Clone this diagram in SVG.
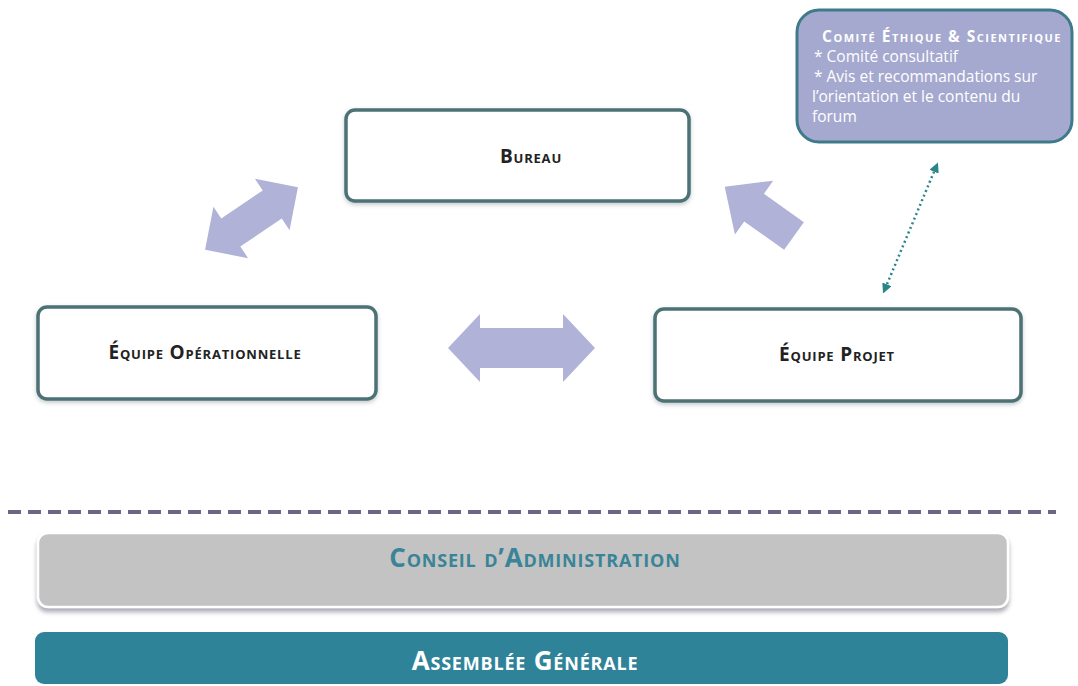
<svg xmlns="http://www.w3.org/2000/svg" width="1078" height="686" viewBox="0 0 1078 686">
<defs>
<style>
.node rect{fill:#fff;stroke:#4d7275;stroke-width:3.5}
.lbl{font-family:"Open Sans","Liberation Sans",sans-serif;font-weight:bold;font-variant:small-caps;font-size:19px;letter-spacing:0.8px;fill:#222;text-anchor:middle}
.big{fill:#b0b2d8}
.ce{font-family:"Open Sans","Liberation Sans",sans-serif;font-size:15.5px;fill:#fff}
.band{font-family:"Open Sans","Liberation Sans",sans-serif;font-weight:bold;font-variant:small-caps;font-size:26px;letter-spacing:0.8px;text-anchor:middle}
</style>
<filter id="sh" x="-10%" y="-10%" width="120%" height="130%">
<feDropShadow dx="0" dy="2" stdDeviation="2" flood-color="#7a8a90" flood-opacity="0.45"/>
</filter>
<filter id="sh2" x="-5%" y="-10%" width="110%" height="140%">
<feDropShadow dx="0" dy="4" stdDeviation="2" flood-color="#8a8a9a" flood-opacity="0.7"/>
</filter>
<marker id="ah" viewBox="0 0 10 10" refX="5" refY="5" markerWidth="4" markerHeight="4" orient="auto-start-reverse">
<path d="M0,0 L10,5 L0,10 z" fill="#2a8588"/>
</marker>
</defs>
<rect width="1078" height="686" fill="#fff"/>

<g id="connectors">
<polygon class="big" transform="translate(251.5,218.5) rotate(-34)" points="-56,0 -25,-31 -25,-17 25,-17 25,-31 56,0 25,31 25,17 -25,17 -25,31"/>
<polygon class="big" transform="translate(794,236) rotate(-144.6)" points="0,-17 49,-17 49,-33 85,0 49,33 49,17 0,17"/>
<polygon class="big" transform="translate(521.5,348)" points="-73.5,0 -41.5,-34 -41.5,-20 41.5,-20 41.5,-34 73.5,0 41.5,34 41.5,20 -41.5,20 -41.5,34"/>
<line x1="936" y1="167" x2="885" y2="289" stroke="#2a8588" stroke-width="2.5" stroke-dasharray="2 3" marker-start="url(#ah)" marker-end="url(#ah)"/>
</g>

<g id="bureau" class="node">
<rect x="346" y="110" width="343" height="91" rx="9" filter="url(#sh)"/>
<text class="lbl" x="531" y="163">Bureau</text>
</g>

<g id="equipe-operationnelle" class="node">
<rect x="38" y="307" width="338" height="92" rx="9" filter="url(#sh)"/>
<text class="lbl" x="205" y="359">Équipe Opérationnelle</text>
</g>

<g id="equipe-projet" class="node">
<rect x="655" y="309" width="366" height="92" rx="9" filter="url(#sh)"/>
<text class="lbl" x="837" y="361">Équipe Projet</text>
</g>

<g id="comite">
<rect x="797" y="10" width="275" height="132" rx="22" fill="#a5a9cf" stroke="#3e7a8a" stroke-width="3"/>
<text class="ce" x="822" y="42" font-size="17px" font-weight="bold" font-variant="small-caps" letter-spacing="1.5px">Comité Éthique &amp; Scientifique</text>
<text class="ce" x="814" y="62">* Comité consultatif</text>
<text class="ce" x="814" y="82">* Avis et recommandations sur</text>
<text class="ce" x="812" y="102">l’orientation et le contenu du</text>
<text class="ce" x="812" y="122">forum</text>
</g>

<g id="separator">
<line x1="8" y1="512" x2="1056" y2="512" stroke="#6b6687" stroke-width="4" stroke-dasharray="13 7"/>
</g>

<g id="conseil">
<rect x="38" y="533" width="970" height="74" rx="10" fill="#c3c3c3" stroke="#fff" stroke-width="2.5" filter="url(#sh2)"/>
<text class="band" x="535" y="567" fill="#3a8497">Conseil d’Administration</text>
</g>

<g id="assemblee">
<rect x="35" y="632" width="973" height="52" rx="9" fill="#2f8399"/>
<text class="band" x="525" y="670" fill="#fff">Assemblée Générale</text>
</g>
</svg>
